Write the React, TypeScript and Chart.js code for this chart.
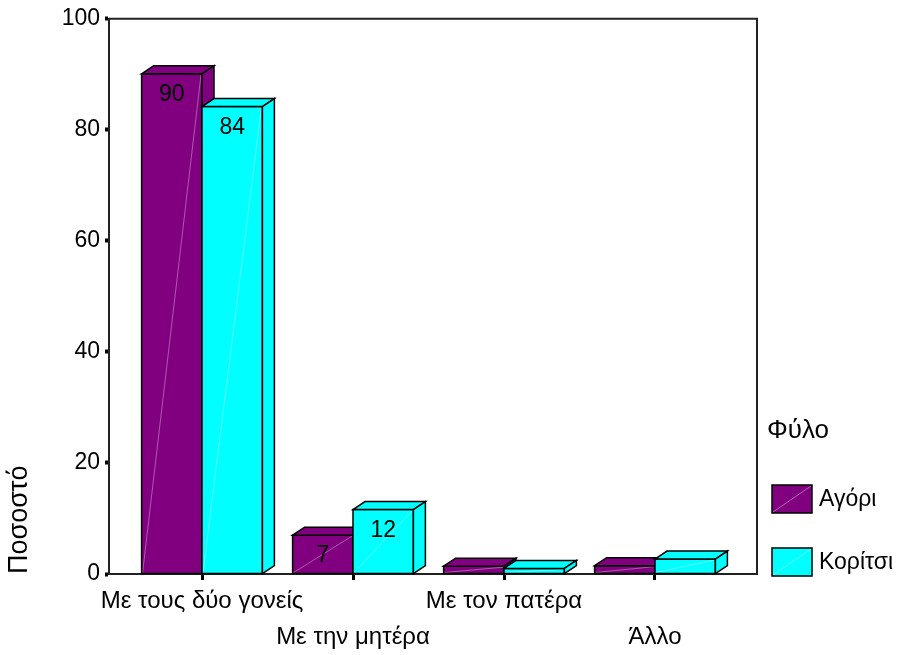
import React, { useEffect, useRef } from 'react';
import { Chart, registerables } from 'chart.js';

Chart.register(...registerables);

// ---- data ----
const categories = ['Με τους δύο γονείς', 'Με την μητέρα', 'Με τον πατέρα', 'Άλλο'];
const seriesNames = ['Αγόρι', 'Κορίτσι'];
const boys = [90.1, 7.0, 1.4, 1.5];
const girls = [84.2, 11.6, 1.0, 2.7];
const yTicks = [0, 20, 40, 60, 80, 100];
const legendTitle = 'Φύλο';
const yTitle = 'Ποσοστό';

// ---- styles ----
const PURPLE = '#800080';
const CYAN = '#00FFFF';
const FONT = '"Liberation Sans", Arial, sans-serif';
const W = 899;
const H = 655;

const bars3d = {
  id: 'bars3d',
  afterDatasetsDraw(chart: any) {
    const ctx = chart.ctx;
    const dx = 12;
    const dy = 8;
    const nd = chart.data.datasets.length;
    const labels: any[] = [];
    for (let i = 0; i < categories.length; i++) {
      for (let d = 0; d < nd; d++) {
        const el = chart.getDatasetMeta(d).data[i];
        if (!el) continue;
        const { x, y, base, width } = el.getProps(['x', 'y', 'base', 'width'], true);
        const l = x - width / 2;
        const r = x + width / 2;
        const color = chart.data.datasets[d].backgroundColor;
        ctx.save();
        ctx.lineWidth = 1.5;
        ctx.strokeStyle = '#000';
        ctx.lineJoin = 'miter';
        ctx.fillStyle = color;
        // front face
        ctx.beginPath();
        ctx.rect(l, y, r - l, base - y);
        ctx.fill();
        // faint diagonal
        ctx.save();
        ctx.strokeStyle = 'rgba(255,255,255,0.35)';
        ctx.lineWidth = 1;
        ctx.beginPath();
        ctx.moveTo(l + 1, base - 1);
        ctx.lineTo(r - 1, y + 1);
        ctx.stroke();
        ctx.restore();
        ctx.beginPath();
        ctx.rect(l, y, r - l, base - y);
        ctx.stroke();
        // top face
        ctx.beginPath();
        ctx.moveTo(l, y);
        ctx.lineTo(l + dx, y - dy);
        ctx.lineTo(r + dx, y - dy);
        ctx.lineTo(r, y);
        ctx.closePath();
        ctx.fill();
        ctx.stroke();
        // side face
        ctx.beginPath();
        ctx.moveTo(r, y);
        ctx.lineTo(r + dx, y - dy);
        ctx.lineTo(r + dx, base - dy);
        ctx.lineTo(r, base);
        ctx.closePath();
        ctx.fill();
        ctx.stroke();
        ctx.restore();
        const v = chart.data.datasets[d].data[i].y;
        if (v >= 5) labels.push({ x, y, text: String(Math.round(v)) });
      }
    }
    ctx.save();
    ctx.fillStyle = '#000';
    ctx.font = `23px ${FONT}`;
    ctx.textAlign = 'center';
    ctx.textBaseline = 'middle';
    labels.forEach((lb) => ctx.fillText(lb.text, lb.x, lb.y + 21));
    ctx.restore();
  },
};

const frame = {
  id: 'frame',
  afterDraw(chart: any) {
    const { left, right, top, bottom } = chart.chartArea;
    const ctx = chart.ctx;
    ctx.save();
    ctx.strokeStyle = '#222';
    ctx.lineWidth = 2;
    ctx.beginPath();
    ctx.moveTo(left, top);
    ctx.lineTo(right, top);
    ctx.lineTo(right, bottom);
    ctx.stroke();
    ctx.restore();
  },
};

const legendPlugin = {
  id: 'customLegend',
  afterDraw(chart: any) {
    const ctx = chart.ctx;
    const right = chart.chartArea.right;
    ctx.save();
    ctx.fillStyle = '#000';
    ctx.textAlign = 'left';
    ctx.textBaseline = 'middle';
    ctx.font = `26px ${FONT}`;
    ctx.fillText(legendTitle, right + 10, 431);
    ctx.font = `23px ${FONT}`;
    chart.data.datasets.forEach((ds: any, d: number) => {
      const bx = right + 15;
      const by = 485 + d * 63;
      ctx.fillStyle = ds.backgroundColor;
      ctx.fillRect(bx, by, 40, 28);
      ctx.save();
      ctx.strokeStyle = 'rgba(255,255,255,0.4)';
      ctx.lineWidth = 1;
      ctx.beginPath();
      ctx.moveTo(bx + 1, by + 27);
      ctx.lineTo(bx + 39, by + 1);
      ctx.stroke();
      ctx.restore();
      ctx.strokeStyle = '#000';
      ctx.lineWidth = 1.5;
      ctx.strokeRect(bx, by, 40, 28);
      ctx.fillStyle = '#000';
      ctx.fillText(ds.label, right + 62, by + 15);
    });
    ctx.restore();
  },
};

export default function App() {
  const ref = useRef<HTMLCanvasElement>(null);
  useEffect(() => {
    document.body.style.margin = '0';
    const canvas = ref.current!;
    const chart = new Chart(canvas, {
      type: 'bar',
      data: {
        datasets: [
          {
            label: seriesNames[0],
            data: boys.map((v, i) => ({ x: i, y: v })),
            backgroundColor: PURPLE,
            borderColor: '#000',
            borderWidth: 1.5,
          },
          {
            label: seriesNames[1],
            data: girls.map((v, i) => ({ x: i, y: v })),
            backgroundColor: CYAN,
            borderColor: '#000',
            borderWidth: 1.5,
          },
        ],
      } as any,
      options: {
        responsive: false,
        animation: false,
        events: [],
        layout: { padding: { top: 18, right: W - 757, left: 0, bottom: 0 } },
        datasets: { bar: { categoryPercentage: 0.8, barPercentage: 1.0 } } as any,
        scales: {
          x: {
            type: 'linear',
            min: -0.6159,
            max: 3.6755,
            offset: false,
            afterBuildTicks: (s: any) => {
              s.ticks = categories.map((_, i) => ({ value: i }));
            },
            afterFit: (s: any) => {
              s.height = H - 574;
            },
            ticks: {
              autoSkip: false,
              maxRotation: 0,
              minRotation: 0,
              padding: 3,
              color: '#000',
              font: { family: FONT, size: 24, lineHeight: 36 / 24 },
              callback: (v: any) => {
                const i = Math.round(Number(v));
                const t = categories[i] ?? '';
                return i % 2 === 0 ? t : ['', t];
              },
            },
            grid: {
              offset: false,
              drawOnChartArea: false,
              tickLength: 6,
              tickWidth: 3,
              tickColor: '#000',
            },
            border: { color: '#222', width: 2 },
          } as any,
          y: {
            min: 0,
            max: 100,
            afterBuildTicks: (s: any) => {
              s.ticks = yTicks.map((v) => ({ value: v }));
            },
            afterFit: (s: any) => {
              s.width = 109;
            },
            ticks: {
              padding: 5,
              color: '#000',
              font: { family: FONT, size: 23 },
            },
            grid: {
              drawOnChartArea: false,
              tickLength: 4,
              tickWidth: 4,
              tickColor: '#000',
            },
            border: { color: '#222', width: 2 },
            title: {
              display: true,
              text: yTitle,
              align: 'start',
              color: '#000',
              font: { family: FONT, size: 27 },
              padding: { top: 3, bottom: 0 },
            },
          } as any,
        },
        plugins: {
          legend: { display: false },
          tooltip: { enabled: false },
        },
      },
      plugins: [bars3d, frame, legendPlugin],
    });
    return () => chart.destroy();
  }, []);
  return <canvas ref={ref} width={W} height={H} style={{ display: 'block', width: W, height: H }} />;
}
